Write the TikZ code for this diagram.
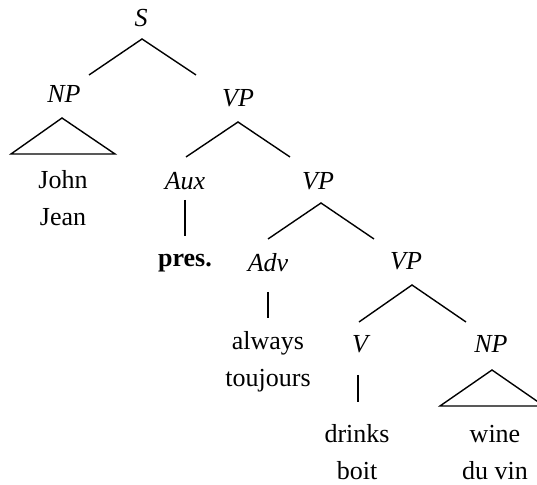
\documentclass[tikz,border=0pt]{standalone}
\usepackage{fontspec}
\setmainfont{Liberation Serif}
\usetikzlibrary{calc}
\begin{document}
\begin{tikzpicture}[x=0.5pt,y=-0.5pt,
  every node/.style={font=\fontsize{13}{15}\selectfont},
  lbl/.style={font=\fontsize{13}{15}\selectfont\itshape, inner sep=0pt, anchor=base},
  wd/.style={inner sep=0pt, anchor=base},
  edge/.style={line width=0.7pt}]
\useasboundingbox (0,0) rectangle (537,485);
% nodes
\node[lbl] (S) at (141,27) {S};
\node[lbl] (NPa) at (64,103) {NP};
\node[lbl] (VPa) at (238,107) {VP};
\node[wd] (john) at (63,189) {John};
\node[wd] (jean) at (63,226) {Jean};
\node[lbl] (Aux) at (185,190) {Aux};
\node[wd, font=\fontsize{13}{15}\selectfont\bfseries] (pres) at (185,267) {pres.};
\node[lbl] (VPb) at (318,190) {VP};
\node[lbl] (Adv) at (268,272) {Adv};
\node[lbl] (VPc) at (406,270) {VP};
\node[wd] (always) at (268,350) {always};
\node[wd] (toujours) at (268,387) {toujours};
\node[lbl] (V) at (360,353) {V};
\node[lbl] (NPb) at (491,353) {NP};
\node[wd] (drinks) at (357,443) {drinks};
\node[wd] (boit) at (357,480) {boit};
\node[wd] (wine) at (495,443) {wine};
\node[wd] (duvin) at (495,480) {du vin};
% branch points
\coordinate (Sa) at ($(S.base)+(1,12)$);
\coordinate (VPaa) at ($(VPa.base)+(0,15)$);
\coordinate (VPba) at ($(VPb.base)+(3,13)$);
\coordinate (VPca) at ($(VPc.base)+(6,15)$);
% branches
\draw[edge] ($(Sa)+(-53,36)$) -- (Sa) -- ($(Sa)+(54,36)$);
\draw[edge] ($(VPaa)+(-52,35)$) -- (VPaa) -- ($(VPaa)+(52,35)$);
\draw[edge] ($(VPba)+(-53,36)$) -- (VPba) -- ($(VPba)+(53,36)$);
\draw[edge] ($(VPca)+(-53,37)$) -- (VPca) -- ($(VPca)+(54,37)$);
% triangles
\coordinate (NPat) at ($(NPa.base)+(-2,15)$);
\draw[edge] (NPat) -- ($(NPat)+(-51,36)$) -- ($(NPat)+(53,36)$) -- cycle;
\coordinate (NPbt) at ($(NPb.base)+(1,17)$);
\draw[edge] (NPbt) -- ($(NPbt)+(-52,36)$) -- ($(NPbt)+(52,36)$) -- cycle;
% unary lines
\draw[edge] ($(Aux.base)+(0,10)$) -- ($(Aux.base)+(0,46)$);
\draw[edge] ($(Adv.base)+(0,20)$) -- ($(Adv.base)+(0,46)$);
\draw[edge] ($(V.base)+(-2,22)$) -- ($(V.base)+(-2,49)$);
\end{tikzpicture}
\end{document}
